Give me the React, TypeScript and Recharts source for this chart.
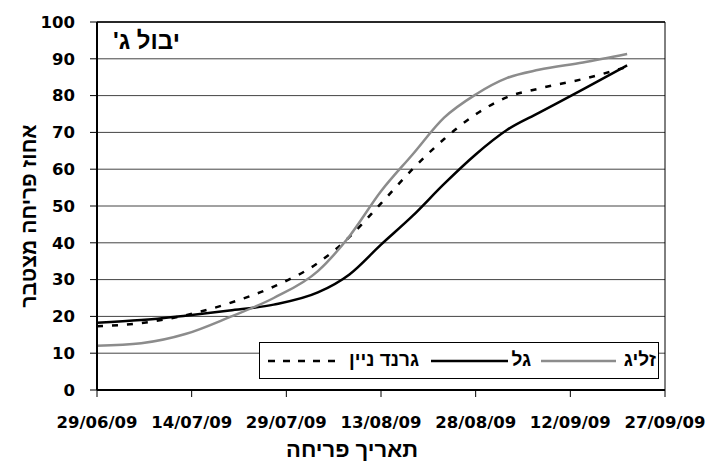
import React from "react";
import {
  LineChart,
  Line,
  XAxis,
  YAxis,
  CartesianGrid,
  ReferenceLine,
} from "recharts";

// days counted from 29/06/09
const days = [0, 7, 14, 21, 28, 35, 40, 45, 50, 55, 60, 65, 70, 77, 84];
const grandNine = [17.3, 18.2, 20.3, 23.6, 28.1, 34.5, 41.6, 50.7, 60, 68.2, 74.9, 79.6, 81.9, 84.5, 87.8];
const gal = [18.3, 19, 20.2, 21.6, 23.2, 26.5, 31.4, 39.5, 47.3, 56, 64, 70.7, 75.3, 81.7, 88.2];
const zelig = [12, 12.7, 15.2, 19.8, 25, 32.3, 41.8, 54, 64, 74, 80.3, 84.8, 87, 89, 91.3];

const tickDays = [0, 15, 30, 45, 60, 75, 90];
const tickLabels = ["29/06/09", "14/07/09", "29/07/09", "13/08/09", "28/08/09", "12/09/09", "27/09/09"];
const yTicks = [0, 10, 20, 30, 40, 50, 60, 70, 80, 90, 100];

const seriesNames = ["גרנד ניין", "גל", "זליג"];
const title = "יבול ג'";
const xTitle = "תאריך פריחה";
const yTitle = "אחוז פריחה מצטבר";

const data = days.map((d, i) => ({
  day: d,
  grandNine: grandNine[i],
  gal: gal[i],
  zelig: zelig[i],
}));

// wide font for the numbers, Arial-like one for the hebrew text
const NUM_FONT = "'DejaVu Sans', sans-serif";
const HEB_FONT = "'Liberation Sans', Arial, sans-serif";
const GRAY = "#8c8c8c";

function LegendBox() {
  const line = (left: number, width: number, stroke: string, dash?: string) => (
    <svg style={{ position: "absolute", left, top: 15 }} width={width} height={6}>
      <line x1={0} y1={3} x2={width} y2={3} stroke={stroke} strokeWidth={2.5} strokeDasharray={dash} />
    </svg>
  );
  const label = (right: number, text: string) => (
    <span dir="rtl" style={{ position: "absolute", right, top: 6, whiteSpace: "nowrap" }}>{text}</span>
  );
  return (
    <div
      style={{
        position: "absolute",
        left: 259,
        top: 342,
        width: 398,
        height: 35,
        border: "1px solid #000",
        background: "#fff",
        fontFamily: HEB_FONT,
        fontWeight: "bold",
        fontSize: 19,
      }}
    >
      {line(8, 71, "#000", "7 8")}
      {label(398 - 159, seriesNames[0])}
      {line(171, 77, "#000")}
      {label(398 - 271, seriesNames[1])}
      {line(281, 75, GRAY)}
      {label(398 - 396, seriesNames[2])}
    </div>
  );
}

export default function App() {
  return (
    <div style={{ position: "absolute", left: 0, top: 0, width: 708, height: 463, background: "#fff", fontFamily: HEB_FONT }}>
      <LineChart width={708} height={463} data={data} margin={{ top: 22, right: 43, left: 0, bottom: 0 }}>
        <CartesianGrid horizontal vertical={false} stroke="#444" />
        <XAxis
          dataKey="day"
          type="number"
          domain={[0, 90]}
          ticks={tickDays}
          tickFormatter={(v: number) => tickLabels[tickDays.indexOf(v)] ?? ""}
          height={73}
          tickSize={7}
          tickMargin={19}
          axisLine={{ stroke: "#000", strokeWidth: 2 }}
          tickLine={{ stroke: "#000" }}
          tick={{ fill: "#000", fontSize: 16.5, fontWeight: "bold", fontFamily: NUM_FONT }}
          interval={0}
        />
        <YAxis
          domain={[0, 100]}
          ticks={yTicks}
          width={97}
          tickSize={7}
          tickMargin={15}
          axisLine={{ stroke: "#000", strokeWidth: 2 }}
          tickLine={{ stroke: "#000" }}
          tick={{ fill: "#000", fontSize: 16.5, fontWeight: "bold", fontFamily: NUM_FONT }}
          interval={0}
        />
        <ReferenceLine y={100} stroke="#000" strokeWidth={1.5} />
        <ReferenceLine x={90} stroke="#000" strokeWidth={1} />
        <Line type="monotone" dataKey="grandNine" stroke="#000" strokeWidth={2.5} strokeDasharray="6 9" dot={false} isAnimationActive={false} />
        <Line type="monotone" dataKey="gal" stroke="#000" strokeWidth={2.5} dot={false} isAnimationActive={false} />
        <Line type="monotone" dataKey="zelig" stroke={GRAY} strokeWidth={2.5} dot={false} isAnimationActive={false} />
      </LineChart>
      <div
        dir="rtl"
        style={{ position: "absolute", left: 113, top: 27, fontSize: 24, fontWeight: "bold", whiteSpace: "nowrap" }}
      >
        {title}
      </div>
      <div
        dir="rtl"
        style={{ position: "absolute", left: 202, width: 300, top: 438, textAlign: "center", fontSize: 22, fontWeight: "bold", lineHeight: "24px" }}
      >
        {xTitle}
      </div>
      <div
        dir="rtl"
        style={{
          position: "absolute",
          left: 29,
          top: 216,
          transform: "translate(-50%, -50%) rotate(-90deg)",
          fontSize: 21,
          fontWeight: "bold",
          whiteSpace: "nowrap",
        }}
      >
        {yTitle}
      </div>
      <LegendBox />
    </div>
  );
}
